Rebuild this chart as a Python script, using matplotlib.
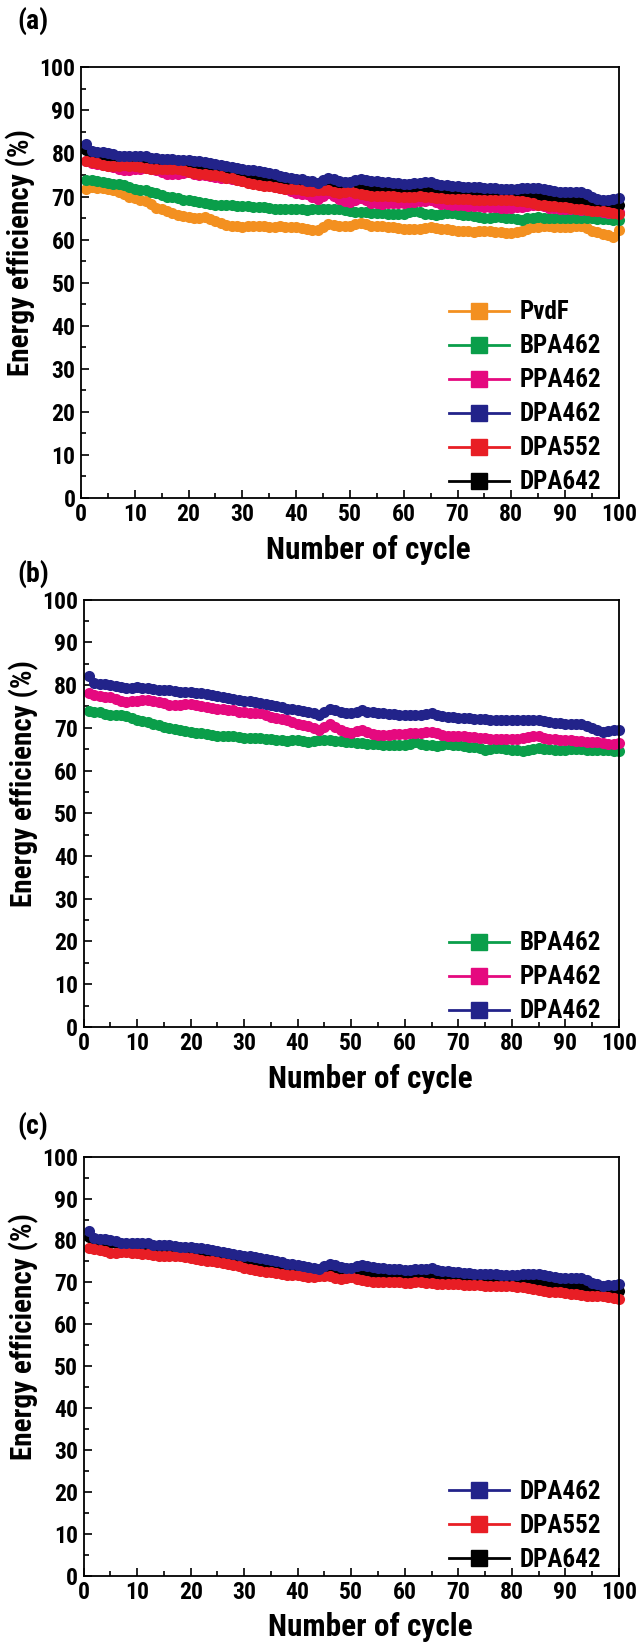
"""Energy efficiency over 100 cycles for the membrane series -> out.png."""
import matplotlib
matplotlib.use("Agg")
import matplotlib.pyplot as plt
from matplotlib import font_manager
from matplotlib.lines import Line2D
from matplotlib.ticker import MultipleLocator

# the source figure uses a condensed bold sans; take one if installed
names = {f.name for f in font_manager.fontManager.ttflist}
face = "Liberation Sans"
for cand in ["Liberation Sans Narrow", "Arial Narrow", "Roboto Condensed",
             "DejaVu Sans Condensed"]:
    if cand in names:
        face = cand
        break
plt.rcParams["font.family"] = [face, "Liberation Sans", "DejaVu Sans"]
plt.rcParams["font.weight"] = "bold"
condensed = face != "Liberation Sans"

cycles = list(range(1, 101))

pvdf = [71.7, 72.2, 72.0, 71.9, 71.8, 71.4, 71.0, 70.5, 70.0, 69.6,
        69.3, 69.0, 68.2, 67.4, 67.0, 66.6, 66.1, 65.7, 65.5, 65.3,
        65.1, 64.9, 65.3, 64.7, 64.2, 63.8, 63.4, 63.2, 63.1, 63.0,
        63.1, 63.2, 63.2, 63.1, 63.0, 63.0, 63.1, 63.0, 62.9, 62.9,
        62.7, 62.4, 62.3, 62.2, 62.9, 63.7, 63.4, 63.2, 63.2, 63.2,
        63.6, 63.9, 63.5, 63.2, 63.2, 63.1, 63.0, 62.8, 62.6, 62.4,
        62.4, 62.5, 62.5, 62.7, 62.8, 62.6, 62.5, 62.4, 62.2, 62.0,
        61.9, 61.9, 61.8, 61.9, 61.9, 61.9, 61.8, 61.8, 61.6, 61.5,
        61.7, 62.0, 62.5, 62.9, 63.0, 63.2, 63.1, 63.0, 62.9, 62.9,
        63.0, 63.1, 63.2, 62.6, 62.0, 61.7, 61.4, 61.0, 60.7, 62.2]

bpa462 = [73.9, 73.8, 73.6, 73.3, 73.1, 73.0, 72.9, 72.7, 72.2, 71.8,
          71.6, 71.4, 71.0, 70.7, 70.3, 70.0, 69.8, 69.6, 69.3, 69.1,
          68.9, 68.8, 68.5, 68.3, 68.1, 68.0, 68.1, 68.1, 67.9, 67.7,
          67.7, 67.6, 67.6, 67.5, 67.4, 67.2, 67.1, 67.0, 67.1, 67.2,
          67.0, 66.8, 67.0, 67.1, 67.2, 67.1, 67.0, 67.0, 66.8, 66.6,
          66.5, 66.4, 66.3, 66.2, 66.2, 66.1, 66.0, 65.9, 65.9, 66.0,
          66.3, 66.6, 66.3, 66.0, 65.9, 65.8, 66.0, 66.2, 66.1, 66.0,
          65.8, 65.6, 65.4, 65.2, 64.9, 65.1, 65.2, 65.3, 65.1, 64.9,
          64.8, 64.6, 64.9, 65.1, 65.3, 65.1, 65.0, 64.9, 64.9, 64.9,
          65.0, 65.0, 65.0, 64.9, 64.9, 64.8, 64.8, 64.7, 64.6, 64.6]

ppa462 = [78.2, 77.8, 77.5, 77.3, 77.2, 76.8, 76.4, 76.1, 76.2, 76.3,
          76.5, 76.6, 76.4, 76.1, 75.7, 75.3, 75.3, 75.3, 75.5, 75.6,
          75.3, 75.1, 74.9, 74.7, 74.5, 74.4, 74.2, 74.1, 73.8, 73.6,
          73.5, 73.4, 73.4, 73.0, 72.6, 72.3, 72.0, 71.8, 71.3, 70.8,
          70.6, 70.5, 70.0, 69.5, 70.1, 70.8, 70.2, 69.5, 69.0, 68.7,
          69.2, 69.6, 69.1, 68.6, 68.4, 68.3, 68.4, 68.5, 68.6, 68.6,
          68.7, 68.8, 68.9, 69.0, 69.1, 68.7, 68.3, 68.2, 68.1, 68.1,
          68.0, 67.9, 67.8, 67.7, 67.6, 67.5, 67.5, 67.4, 67.4, 67.4,
          67.5, 67.6, 67.8, 68.0, 68.0, 67.7, 67.4, 67.3, 67.2, 67.2,
          67.1, 67.0, 66.9, 66.8, 66.8, 66.6, 66.4, 66.2, 66.3, 66.5]

dpa462 = [82.2, 80.6, 80.3, 80.3, 80.0, 79.8, 79.5, 79.3, 79.3, 79.5,
          79.4, 79.3, 79.0, 78.9, 78.8, 78.8, 78.7, 78.5, 78.5, 78.4,
          78.2, 78.2, 78.0, 77.7, 77.5, 77.3, 77.0, 76.8, 76.6, 76.4,
          76.2, 76.1, 75.9, 75.6, 75.4, 75.2, 74.8, 74.5, 74.3, 74.1,
          74.0, 73.7, 73.5, 73.1, 73.8, 74.4, 74.1, 73.6, 73.4, 73.4,
          73.8, 74.1, 73.8, 73.6, 73.5, 73.4, 73.3, 73.2, 73.1, 73.0,
          73.0, 73.1, 73.1, 73.3, 73.4, 73.0, 72.7, 72.6, 72.5, 72.4,
          72.3, 72.2, 72.1, 72.1, 72.0, 71.9, 71.9, 71.8, 71.8, 71.8,
          71.8, 71.9, 71.9, 71.9, 71.9, 71.7, 71.4, 71.2, 71.1, 71.0,
          71.0, 71.0, 71.0, 70.5, 69.9, 69.5, 69.1, 69.3, 69.4, 69.6]

dpa552 = [78.3, 78.0, 77.8, 77.4, 77.0, 77.1, 77.2, 77.3, 77.1, 77.0,
          76.8, 76.7, 76.5, 76.4, 76.3, 76.3, 76.4, 76.4, 76.1, 75.8,
          75.5, 75.3, 75.2, 75.0, 74.9, 74.7, 74.4, 74.2, 73.8, 73.5,
          73.2, 72.9, 72.7, 72.5, 72.4, 72.2, 72.0, 71.8, 71.8, 71.8,
          71.5, 71.2, 71.3, 71.4, 71.4, 71.4, 71.1, 70.8, 71.0, 71.2,
          70.9, 70.6, 70.4, 70.2, 70.2, 70.2, 70.1, 70.1, 70.0, 69.8,
          69.9, 70.0, 70.1, 69.9, 69.8, 69.7, 69.6, 69.5, 69.5, 69.5,
          69.4, 69.4, 69.3, 69.3, 69.2, 69.2, 69.2, 69.1, 69.1, 69.1,
          69.0, 68.9, 68.7, 68.4, 68.1, 68.0, 67.8, 67.7, 67.6, 67.5,
          67.3, 67.2, 67.0, 66.8, 66.7, 66.7, 66.7, 66.5, 66.2, 66.0]

dpa642 = [80.8, 80.2, 79.9, 79.7, 79.5, 79.3, 79.1, 78.9, 78.7, 78.5,
          78.4, 78.3, 78.1, 78.0, 77.8, 77.7, 77.6, 77.4, 77.2, 77.0,
          76.8, 76.6, 76.4, 76.2, 76.0, 75.8, 75.6, 75.4, 75.2, 75.0,
          74.8, 74.6, 74.5, 74.3, 74.1, 73.8, 73.5, 73.2, 72.9, 72.7,
          72.6, 72.5, 72.4, 72.4, 72.5, 72.6, 72.5, 72.4, 72.3, 72.2,
          72.2, 72.1, 72.0, 71.9, 71.8, 71.7, 71.7, 71.6, 71.5, 71.5,
          71.4, 71.4, 71.4, 71.3, 71.3, 71.2, 71.1, 71.1, 71.0, 71.0,
          70.9, 70.9, 70.8, 70.8, 70.7, 70.7, 70.6, 70.6, 70.5, 70.5,
          70.4, 70.3, 70.2, 70.1, 70.0, 69.9, 69.8, 69.7, 69.6, 69.5,
          69.4, 69.3, 69.2, 69.1, 69.0, 68.8, 68.6, 68.4, 68.2, 68.0]

series = {
    "PvdF": (pvdf, "#F39020"),
    "BPA462": (bpa462, "#0A9E4A"),
    "PPA462": (ppa462, "#E5097F"),
    "DPA462": (dpa462, "#22238A"),
    "DPA552": (dpa552, "#E81E25"),
    "DPA642": (dpa642, "#000000"),
}

panels = [
    ("(a)", ["PvdF", "BPA462", "PPA462", "DPA462", "DPA552", "DPA642"],
     ["PvdF", "BPA462", "PPA462", "DPA642", "DPA552", "DPA462"]),
    ("(b)", ["BPA462", "PPA462", "DPA462"],
     ["BPA462", "PPA462", "DPA462"]),
    ("(c)", ["DPA462", "DPA552", "DPA642"],
     ["DPA642", "DPA552", "DPA462"]),
]

tick_size = 17 if condensed else 14
xlabel_size = 22.5 if condensed else 19
ylabel_size = 21 if condensed else 19
legend_size = 18 if condensed else 16


def style_axis(ax):
    ax.set_xlim(0, 100)
    ax.set_ylim(0, 100)
    ax.xaxis.set_major_locator(MultipleLocator(10))
    ax.xaxis.set_minor_locator(MultipleLocator(5))
    ax.yaxis.set_major_locator(MultipleLocator(10))
    ax.yaxis.set_minor_locator(MultipleLocator(5))
    ax.tick_params(which="both", direction="in", top=False, right=False,
                   width=1.2, labelsize=tick_size)
    ax.tick_params(which="major", length=6, pad=4)
    ax.tick_params(which="minor", length=3.5)
    for sp in ax.spines.values():
        sp.set_linewidth(1.3)
    for lab in ax.get_xticklabels() + ax.get_yticklabels():
        lab.set_fontweight("bold")
    # baseline alignment keeps the label clear of the font's descent metrics
    ax.set_xlabel("Number of cycle", fontsize=xlabel_size, fontweight="bold",
                  va="baseline")
    ax.xaxis.set_label_coords(0.535, -0.143)
    ax.set_ylabel("Energy efficiency (%)", fontsize=ylabel_size,
                  fontweight="bold", va="center", ha="center")
    ax.yaxis.set_label_coords(-0.112, 0.57)


def main():
    fig = plt.figure(figsize=(6.38, 16.43), dpi=100)
    boxes = [(0.127, 0.697, 0.843, 0.262),
             (0.131, 0.375, 0.839, 0.260),
             (0.131, 0.041, 0.839, 0.255)]
    label_y = [0.987, 0.651, 0.315]

    for (tag, legend_names, draw_order), box, ly in zip(panels, boxes, label_y):
        ax = fig.add_axes(box)
        for name in draw_order:
            vals, col = series[name]
            ax.plot(cycles, vals, color=col, marker="o", markersize=8,
                    markeredgewidth=0, linewidth=1.5, clip_on=False)
        style_axis(ax)
        handles = [Line2D([], [], color=series[n][1], marker="s",
                          markersize=11, linewidth=2) for n in legend_names]
        ax.legend(handles, legend_names, loc="lower right", frameon=False,
                  prop={"size": legend_size, "weight": "bold"},
                  handlelength=2.4, handletextpad=0.4, labelspacing=0.4,
                  borderaxespad=0.0, bbox_to_anchor=(0.985, -0.015))
        fig.text(0.028, ly, tag, fontsize=20, fontweight="bold",
                 ha="left", va="center")

    fig.savefig("out.png", dpi=100)


if __name__ == "__main__":
    main()
